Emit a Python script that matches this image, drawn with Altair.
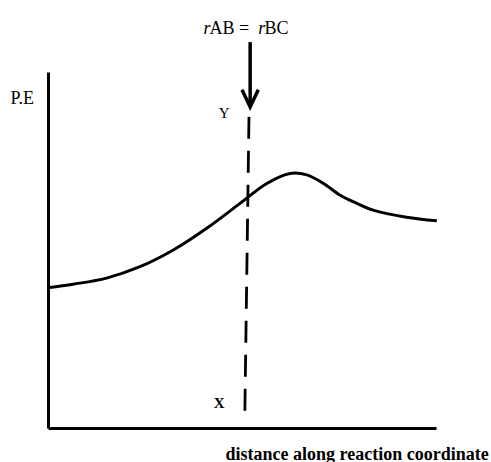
import altair as alt
import pandas as pd

# Potential-energy profile along the reaction coordinate (axis units 0-10)
distance = [0.0, 0.65, 1.51, 2.37, 3.23, 4.09, 4.95, 5.64, 6.24, 6.67, 7.10, 7.53, 7.96, 8.38, 9.24, 10.02]
energy = [3.94, 4.04, 4.21, 4.53, 5.00, 5.61, 6.31, 6.87, 7.15, 7.11, 6.87, 6.54, 6.31, 6.12, 5.92, 5.82]

# Dashed line X-Y where r_AB = r_BC
cut_x_top, cut_y_top = 5.18, 8.74
cut_x_bottom, cut_y_bottom = 5.07, 0.17

# Arrow pointing down onto the dashed line
arrow_x = 5.21
arrow_top, arrow_tip = 10.84, 9.04
head_x = [5.00, 5.21, 5.42]
head_y = [9.50, 9.02, 9.50]

# Labels: text, x, y, font style, weight, size
labels = pd.DataFrame({
    "text": ["r", "AB =", "r", "BC", "Y", "X"],
    "x": [4.01, 4.16, 5.42, 5.58, 4.40, 4.27],
    "y": [11.08, 11.08, 11.08, 11.08, 8.71, 0.56],
    "style": ["italic", "normal", "italic", "normal", "normal", "normal"],
    "weight": ["normal", "normal", "normal", "normal", "normal", "bold"],
    "size": [18, 18, 18, 18, 15, 15],
})

FONT = "Liberation Serif"
xs = alt.Scale(domain=[0, 10], nice=False, zero=False)
ys = alt.Scale(domain=[0, 10], nice=False, zero=False)

curve_df = pd.DataFrame({"distance": distance, "energy": energy})

curve = alt.Chart(curve_df).mark_line(
    color="black", strokeWidth=3, interpolate="catmull-rom"
).encode(
    x=alt.X("distance:Q", scale=xs, axis=alt.Axis(
        title="distance along reaction coordinate", domain=True, domainColor="black",
        domainWidth=3, ticks=False, labels=False, grid=False,
        titleFont=FONT, titleFontSize=18, titleFontWeight=600, titleColor="black",
        titleAlign="left", titleAnchor="start", titleBaseline="alphabetic",
        titleX=177, titleY=31)),
    y=alt.Y("energy:Q", scale=ys, axis=alt.Axis(
        title="P.E", domain=True, domainColor="black",
        domainWidth=3, ticks=False, labels=False, grid=False,
        titleFont=FONT, titleFontSize=18, titleFontWeight="normal", titleColor="black",
        titleAngle=0, titleAlign="left", titleBaseline="alphabetic",
        titleX=-38, titleY=31)),
)

cut_df = pd.DataFrame({"x": [cut_x_top], "y": [cut_y_top], "x2": [cut_x_bottom], "y2": [cut_y_bottom]})
cut = alt.Chart(cut_df).mark_rule(
    color="black", strokeWidth=2.8, strokeDash=[22, 12]
).encode(x=alt.X("x:Q", scale=xs), y=alt.Y("y:Q", scale=ys), x2="x2:Q", y2="y2:Q")

shaft_df = pd.DataFrame({"x": [arrow_x], "y": [arrow_top], "y2": [arrow_tip]})
shaft = alt.Chart(shaft_df).mark_rule(color="black", strokeWidth=3.5).encode(
    x=alt.X("x:Q", scale=xs), y=alt.Y("y:Q", scale=ys), y2="y2:Q")

head_df = pd.DataFrame({"x": head_x, "y": head_y, "order": [0, 1, 2]})
head = alt.Chart(head_df).mark_line(
    color="black", strokeWidth=3.5, strokeJoin="miter"
).encode(x=alt.X("x:Q", scale=xs), y=alt.Y("y:Q", scale=ys), order="order:O")

text_layers = []
for (style, weight, size), grp in labels.groupby(["style", "weight", "size"]):
    text_layers.append(
        alt.Chart(grp).mark_text(
            font=FONT, fontSize=int(size), fontStyle=style, fontWeight=weight,
            color="black", align="left", baseline="alphabetic"
        ).encode(x=alt.X("x:Q", scale=xs), y=alt.Y("y:Q", scale=ys), text="text:N")
    )

chart = alt.layer(curve, cut, shaft, head, *text_layers).properties(
    width=388, height=356,
    autosize=alt.AutoSizeParams(type="none"),
    padding={"left": 48, "top": 72, "right": 55, "bottom": 34},
    background="white",
).configure_view(stroke=None)

chart.save("out.html", embed_options={"renderer": "svg", "actions": False})
